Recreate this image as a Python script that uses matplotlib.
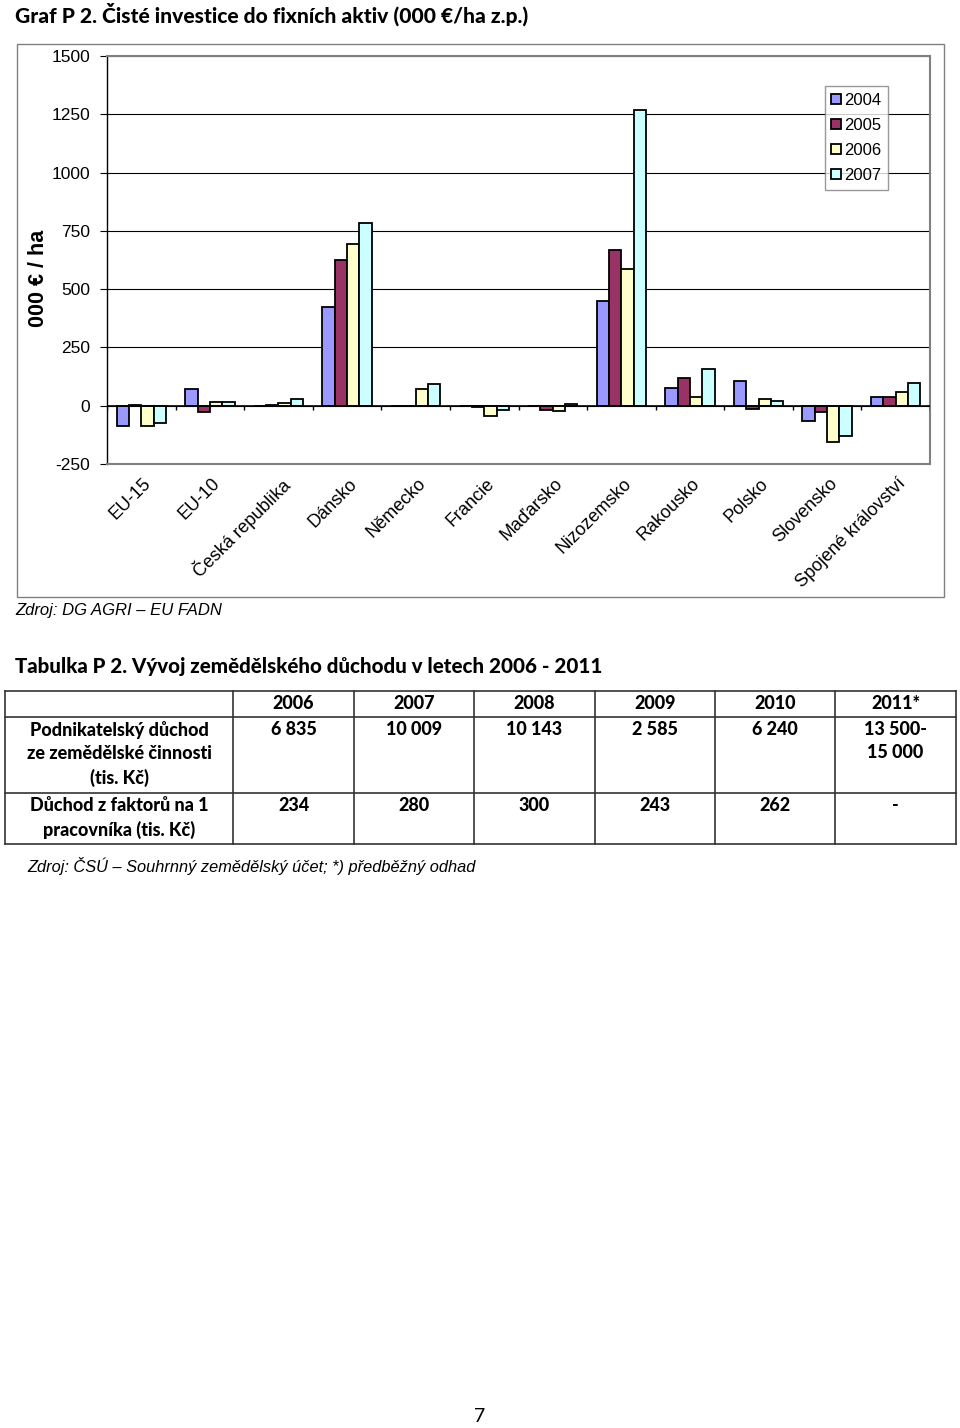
import numpy as np
import matplotlib.pyplot as plt
from matplotlib.patches import Rectangle
from matplotlib.lines import Line2D

# chart data (000 EUR / ha)
countries = ['EU-15', 'EU-10', 'Česká republika', 'Dánsko', 'Německo', 'Francie',
             'Maďarsko', 'Nizozemsko', 'Rakousko', 'Polsko', 'Slovensko',
             'Spojené království']
years = ['2004', '2005', '2006', '2007']
v2004 = [-86, 73, -1, 425, -3, -2, -3, 450, 77, 107, -64, 39]
v2005 = [3, -26, 4, 626, -3, -5, -17, 669, 120, -13, -26, 39]
v2006 = [-86, 17, 13, 695, 73, -43, -21, 588, 39, 30, -154, 60]
v2007 = [-73, 17, 30, 785, 94, -17, 9, 1270, 159, 21, -129, 99]
yticks = [-250, 0, 250, 500, 750, 1000, 1250, 1500]
colors = ['#9999FF', '#993366', '#FFFFCC', '#CCFFFF']

# table data
tab_years = ['2006', '2007', '2008', '2009', '2010', '2011*']
row_labels = ['Podnikatelský důchod\nze zemědělské činnosti\n(tis. Kč)',
              'Důchod z faktorů na 1\npracovníka (tis. Kč)']
income = ['6 835', '10 009', '10 143', '2 585', '6 240', '13 500-\n15 000']
per_worker = ['234', '280', '300', '243', '262', '-']

W, H = 960, 1428
fig = plt.figure(figsize=(W / 100, H / 100), dpi=100)


def fx(x):
    return x / W


def fy(y):
    return 1 - y / H


arial = 'Liberation Sans'
calibri = 'Lato'
heavy = 'black'

fig.text(fx(15), fy(14), 'Graf P 2. Čisté investice do fixních aktiv (000 €/ha z.p.)',
         family=calibri, weight=heavy, fontsize=15.1, va='center', ha='left')

# outer chart frame
fig.add_artist(Rectangle((fx(17), fy(597)), fx(944) - fx(17), fy(44) - fy(597),
                         transform=fig.transFigure, fill=False, edgecolor='#808080', lw=1))

ax = fig.add_axes([fx(107), fy(464), fx(930) - fx(107), fy(56) - fy(464)])
x = np.arange(len(countries))
bw = 0.18
for i, (vals, c, yr) in enumerate(zip([v2004, v2005, v2006, v2007], colors, years)):
    ax.bar(x + (i - 1.5) * bw, vals, bw, color=c, edgecolor='black', lw=1.3, label=yr,
           zorder=3)

ax.set_xlim(-0.5, len(countries) - 0.5)
ax.set_ylim(-250, 1500)
ax.set_yticks(yticks)
ax.set_yticklabels([str(t) for t in yticks], family=arial, fontsize=12.5)
for t in yticks[1:]:
    ax.axhline(t, color='black', lw=0.8, zorder=1)
ax.axhline(0, color='black', lw=1.2, zorder=4)
ax.vlines(np.arange(len(countries) + 1) - 0.5, -20, 0, color='black', lw=1, zorder=4)
ax.tick_params(axis='y', length=5, direction='out', pad=7)
ax.set_xticks(x + 0.02)
ax.set_xticklabels(countries, rotation=45, ha='right', va='top', rotation_mode='anchor',
                   family=arial, fontsize=13)
ax.tick_params(axis='x', length=0, pad=8)
for s in ['top', 'right', 'bottom']:
    ax.spines[s].set_color('#808080')
    ax.spines[s].set_linewidth(1.5)
ax.spines['left'].set_color('black')
ax.spines['left'].set_linewidth(1)

leg = ax.legend(loc='upper left', bbox_to_anchor=(0.872, 0.926), borderaxespad=0,
                prop={'family': arial, 'size': 12},
                frameon=True, fancybox=False, edgecolor='#808080', handlelength=0.6,
                handleheight=0.6, handletextpad=0.15, labelspacing=0.6, borderpad=0.4)
leg.get_frame().set_linewidth(1)

fig.text(fx(38), fy(278), '000 € / ha', family=arial, weight='bold', fontsize=15.5,
         rotation=90, ha='center', va='center')

fig.text(fx(15), fy(611), 'Zdroj: DG AGRI – EU FADN', family=arial, style='italic',
         fontsize=12, ha='left', va='center')

# table
fig.text(fx(15), fy(666), 'Tabulka P 2. Vývoj zemědělského důchodu v letech 2006 - 2011',
         family=calibri, weight=heavy, fontsize=14.8, ha='left', va='center')

col_x = [5, 233, 354, 474, 595, 715, 835, 956]
row_y = [691, 717, 793, 844]
lc = '#333333'
for yy in row_y:
    fig.add_artist(Line2D([fx(col_x[0]), fx(col_x[-1])], [fy(yy), fy(yy)], color=lc, lw=1.2))
for cx in col_x:
    fig.add_artist(Line2D([fx(cx), fx(cx)], [fy(row_y[0]), fy(row_y[-1])], color=lc, lw=1.2))

tkw = dict(family=calibri, weight=heavy, fontsize=13, ha='center', va='top',
           linespacing=1.45)
for j, yr in enumerate(tab_years):
    cxm = (col_x[j + 1] + col_x[j + 2]) / 2
    fig.text(fx(cxm), fy(695), yr, **tkw)
    fig.text(fx(cxm), fy(721), income[j], **tkw)
    fig.text(fx(cxm), fy(797), per_worker[j], **tkw)
lxm = (col_x[0] + col_x[1]) / 2
fig.text(fx(lxm), fy(721), row_labels[0], **tkw)
fig.text(fx(lxm), fy(797), row_labels[1], **tkw)

fig.text(fx(27), fy(866), 'Zdroj: ČSÚ – Souhrnný zemědělský účet; *) předběžný odhad',
         family=arial, style='italic', fontsize=11.8, ha='left', va='center')

fig.text(fx(480), fy(1416), '7', family=calibri, fontsize=14, ha='center', va='center')

fig.savefig('out.png', dpi=100)
